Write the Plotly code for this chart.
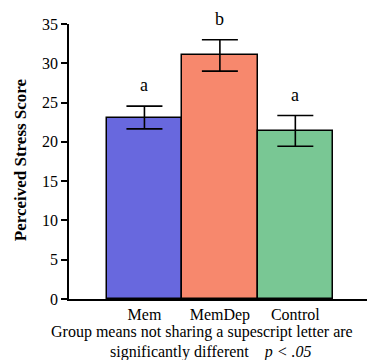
import plotly.graph_objects as go

# Group means and standard errors
groups = ["Mem", "MemDep", "Control"]
means = [23.1, 31.0, 21.4]
errors = [1.45, 2.0, 1.95]
letters = ["a", "b", "a"]
bar_colors = ["#6868de", "#f7886d", "#79c794"]

y_ticks = [0, 5, 10, 15, 20, 25, 30, 35]

serif = "Liberation Serif, Times New Roman, serif"

fig = go.Figure()
fig.add_trace(go.Bar(
    x=list(range(len(groups))),
    y=means,
    width=1.0,
    marker=dict(color=bar_colors, line=dict(color="black", width=1.5)),
    error_y=dict(type="data", array=errors, visible=True,
                 color="black", thickness=1.6, width=18),
    showlegend=False,
))

annotations = []
# supescript letters sit just above each error bar
for i, (lt, m, e) in enumerate(zip(letters, means, errors)):
    annotations.append(dict(x=i, y=m + e, xref="x", yref="y", text=lt,
                            showarrow=False, yanchor="bottom", yshift=9,
                            font=dict(family=serif, size=18, color="black")))

annotations += [
    dict(x=-0.164, y=0.505, xref="paper", yref="paper",
         xanchor="center", yanchor="middle",
         text="<b>Perceived Stress Score</b>", textangle=-90,
         showarrow=False, font=dict(family=serif, size=17, color="black")),
    dict(x=0.446, y=-0.12, xref="paper", yref="paper",
         xanchor="center", yanchor="middle",
         text="Group means not sharing a supescript letter are",
         showarrow=False, font=dict(family=serif, size=16, color="black")),
    dict(x=0.477, y=-0.193, xref="paper", yref="paper",
         xanchor="center", yanchor="middle",
         text="significantly different&nbsp;&nbsp;&nbsp;&nbsp;<i>p &lt; .05</i>",
         showarrow=False, font=dict(family=serif, size=16, color="black")),
]

fig.update_layout(
    width=367, height=360,
    margin=dict(l=69, r=0, t=24, b=61),
    paper_bgcolor="white", plot_bgcolor="white",
    bargap=0,
    annotations=annotations,
    xaxis=dict(
        range=[-1.0, 2.95],
        tickvals=list(range(len(groups))), ticktext=groups,
        showline=True, linecolor="black", linewidth=1.5,
        ticks="", showgrid=False, zeroline=False,
        tickfont=dict(family=serif, size=16, color="black"),
    ),
    yaxis=dict(
        range=[0, 35],
        tickvals=y_ticks,
        showline=True, linecolor="black", linewidth=1.5,
        ticks="outside", ticklen=6, tickwidth=1.5, tickcolor="black",
        showgrid=False, zeroline=False,
        tickfont=dict(family=serif, size=16, color="black"),
    ),
)

fig.write_html("out.html")
